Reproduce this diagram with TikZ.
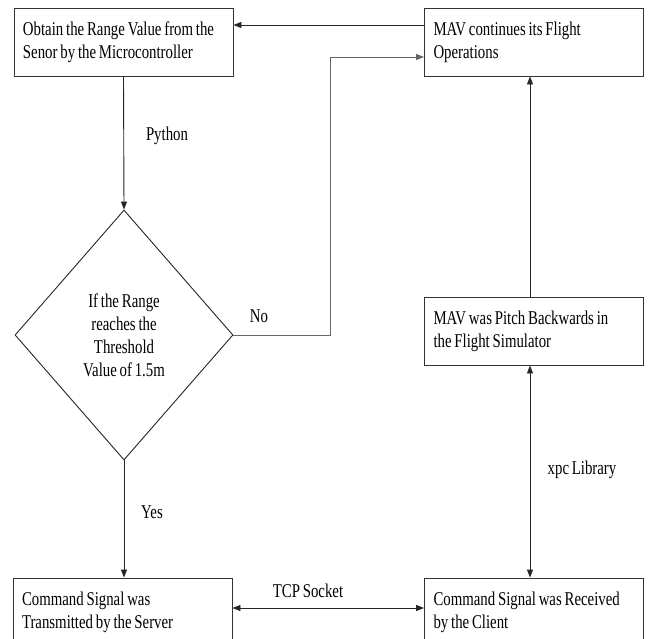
\documentclass[tikz,border=0pt]{standalone}
\usepackage{fontspec}
\setmainfont{Liberation Serif}[FakeStretch=0.76,WordSpace=0.76]
\usetikzlibrary{shapes.geometric,arrows.meta}
\begin{document}
\begin{tikzpicture}[x=1pt,y=-1pt,
  txt/.style={font=\fontsize{19.5}{23}\selectfont},
  box/.style={txt, draw=black!80, line width=0.9pt, minimum height=68pt,
    text width=201pt, inner xsep=9pt, inner ysep=0pt, align=flush left},
  dia/.style={txt, shape=diamond, draw=black!85, line width=0.9pt,
    minimum width=218pt, minimum height=250pt, inner sep=0pt, align=center},
  arr/.style={line width=0.9pt, draw=black!85, -{Triangle[length=8pt,width=6pt]}},
  darr/.style={line width=0.9pt, draw=black!85, {Triangle[length=8pt,width=6pt]}-{Triangle[length=8pt,width=6pt]}},
  lbl/.style={txt, inner sep=0pt}]
\fill[white] (0,0) rectangle (650,638);
\useasboundingbox (0,0) rectangle (650,638);
\begin{scope}
\clip (0,0) rectangle (650,638);
\node[box] (obtain) at (123.5,42) {Obtain the Range Value from the\\Senor by the Microcontroller};
\node[box] (cont) at (534,42) {MAV continues its Flight\\Operations};
\node[box] (pitch) at (534,331) {MAV was Pitch Backwards in\\the Flight Simulator};
\node[box] (recv) at (534,612) {Command Signal was Received\\by the Client};
\node[box] (trans) at (122.5,612) {Command Signal was\\Transmitted by the Server};
\node[dia] (dec) at (124,335) {If the Range\\reaches the\\Threshold\\Value of 1.5m};

\draw[arr] ([yshift=17pt]cont.west) -- ([yshift=17pt]obtain.east);
\draw[arr] (obtain.south) -- (dec.north);
\draw[arr, draw=black!60] (dec.east) -- ++(97,0) |- ([yshift=-15pt]cont.west);
\draw[arr] (dec.south) -- (dec.south |- trans.north);
\draw[arr] (pitch.north -| 530,0) -- (cont.south -| 530,0);
\draw[darr] (pitch.south -| 530,0) -- (recv.north -| 530,0);
\draw[darr] ([yshift=4pt]trans.east) -- ([yshift=4pt]recv.west);

\node[lbl] (python) at (167,136) {Python};
\node[lbl] (no) at (259,316) {No};
\node[lbl] (yes) at (152,512) {Yes};
\node[lbl] (tcp) at (308,591) {TCP Socket};
\node[lbl] (xpc) at (582,470) {xpc Library};
\end{scope}
\end{tikzpicture}
\end{document}
